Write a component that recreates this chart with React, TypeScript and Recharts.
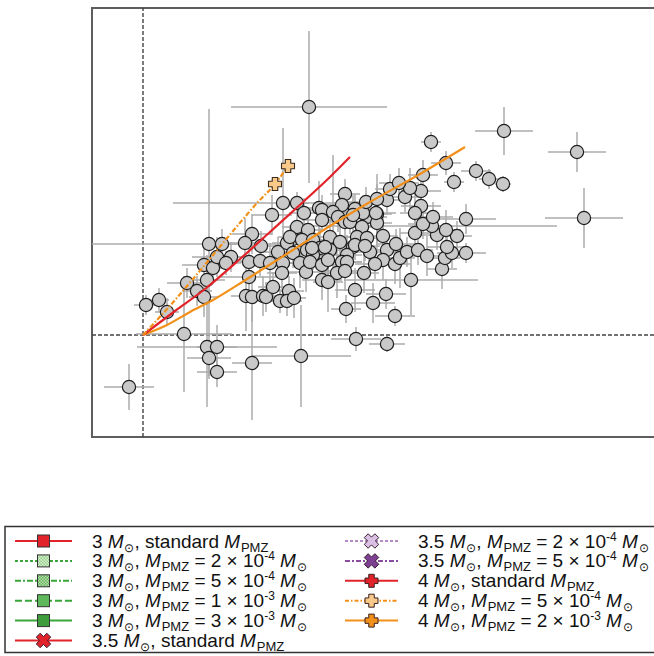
import React from "react";
import {
  ScatterChart,
  Scatter,
  XAxis,
  YAxis,
  ErrorBar,
  ReferenceLine,
  ReferenceArea,
} from "recharts";

// [x, y, xErr, yErr]
type Star = [number, number, number, number];

const lowerStars: Star[] = [
  [-0.14, -0.52, 0.25, 0.23],
  [0.03, 0.3, 0.12, 0.1],
  [0.16, 0.35, 0.1, 0.12],
  [0.24, 0.23, 0.12, 0.14],
  [0.41, 0.01, 0.48, 0.58],
  [0.64, -0.12, 0.7, 0.6],
  [0.74, -0.12, 0.2, 0.22],
  [0.66, -0.23, 0.22, 0.18],
  [0.74, -0.37, 0.2, 0.15],
  [1.09, -0.28, 0.2, 0.57],
  [1.58, -0.21, 0.5, 0.51],
  [2.13, -0.04, 0.25, 0.12],
  [2.44, -0.09, 0.18, 0.08],
  [2.03, 0.26, 0.15, 0.14],
  [2.3, 0.32, 0.22, 0.2],
  [2.43, 0.41, 0.2, 0.15],
  [2.52, 0.19, 0.2, 0.1],
  [2.12, 0.45, 0.2, 0.22],
];

const leftStars: Star[] = [
  [0.44, 0.52, 0.2, 0.15],
  [0.54, 0.44, 0.15, 0.15],
  [0.61, 0.38, 0.15, 0.2],
  [0.64, 0.55, 0.18, 0.25],
  [0.61, 0.7, 0.22, 0.2],
  [0.7, 0.67, 0.15, 0.15],
  [0.74, 0.78, 0.25, 0.2],
  [0.66, 0.91, 1.17, 1.35],
  [0.79, 0.91, 0.15, 0.15],
  [0.88, 0.78, 0.15, 0.15],
  [0.83, 0.72, 0.15, 0.12],
  [1.09, 1.01, 0.2, 0.2],
  [1.02, 0.92, 0.2, 0.25],
  [1.18, 0.89, 0.15, 0.15],
  [1.06, 0.73, 0.2, 0.15],
  [1.17, 0.74, 0.2, 0.15],
  [1.06, 0.58, 0.3, 0.2],
  [1.03, 0.39, 0.15, 0.35],
  [1.09, 0.38, 0.12, 0.25],
  [1.2, 0.39, 0.15, 0.2],
  [1.23, 0.38, 0.1, 0.15],
  [1.3, 0.48, 0.15, 0.15],
  [1.46, 0.44, 0.15, 0.15],
  [1.37, 0.34, 0.12, 0.12],
  [1.44, 0.34, 0.15, 0.15],
  [1.51, 0.37, 0.12, 0.2],
  [1.29, 1.2, 0.2, 0.2],
  [1.4, 1.32, 1.1, 0.75],
  [1.27, 0.72, 0.2, 0.2],
  [1.35, 0.83, 0.15, 0.15],
  [1.4, 0.72, 0.12, 0.12],
  [1.39, 0.62, 0.15, 0.18],
  [1.5, 0.96, 0.12, 0.15],
  [1.44, 0.92, 0.15, 0.12],
  [1.54, 1.08, 0.15, 0.15],
];

const clusterStars: Star[] = [
  [1.54, 1.32, 0.12, 0.11],
  [1.61, 1.22, 0.15, 0.15],
  [1.76, 1.27, 0.12, 0.27],
  [1.79, 1.25, 0.2, 0.15],
  [2.02, 1.41, 0.15, 0.15],
  [1.99, 1.3, 0.18, 0.12],
  [1.9, 1.23, 0.2, 0.57],
  [1.95, 1.18, 0.15, 0.15],
  [1.79, 1.15, 0.2, 0.12],
  [1.65, 1.05, 0.15, 0.2],
  [1.47, 0.98, 0.12, 0.12],
  [1.59, 0.95, 0.2, 0.15],
  [1.7, 0.95, 0.15, 0.15],
  [1.87, 0.98, 0.2, 0.18],
  [2.02, 1.13, 0.15, 0.15],
  [2.07, 1.13, 0.12, 0.12],
  [2.24, 1.18, 0.2, 0.15],
  [2.34, 1.21, 0.15, 0.4],
  [2.44, 1.35, 0.15, 0.15],
  [2.19, 1.08, 0.2, 0.15],
  [2.34, 1.12, 0.15, 0.2],
  [2.14, 0.98, 0.18, 0.15],
  [2.24, 0.97, 0.15, 0.15],
  [1.97, 0.93, 0.2, 0.15],
  [1.77, 0.87, 0.15, 0.2],
  [1.87, 0.85, 0.2, 0.15],
  [1.64, 0.85, 0.12, 0.15],
  [1.5, 0.82, 0.15, 0.15],
  [2.1, 0.88, 0.2, 0.15],
  [2.27, 0.83, 0.15, 0.2],
  [2.44, 0.85, 0.2, 0.15],
  [1.7, 0.8, 0.15, 0.15],
  [2.04, 0.8, 0.15, 0.2],
  [1.57, 0.72, 0.15, 0.25],
  [1.63, 0.63, 0.2, 0.2],
  [1.67, 0.73, 0.15, 0.15],
  [1.79, 0.7, 0.2, 0.15],
  [1.85, 0.75, 0.15, 0.2],
  [1.99, 0.73, 0.2, 0.15],
  [2.04, 0.73, 0.15, 0.15],
  [1.94, 0.62, 0.15, 0.25],
  [2.02, 0.64, 0.2, 0.2],
  [1.79, 0.55, 0.2, 0.2],
  [1.85, 0.53, 0.15, 0.3],
  [1.69, 0.87, 0.15, 0.15],
  [1.82, 0.88, 0.15, 0.15],
  [2.12, 0.9, 0.15, 0.15],
  [2.22, 0.89, 0.15, 0.15],
  [2.12, 1.26, 0.2, 0.15],
  [2.2, 1.22, 0.15, 0.15],
  [2.1, 1.2, 0.15, 0.2],
  [2.23, 1.33, 0.2, 0.15],
  [2.34, 1.36, 0.15, 0.15],
  [2.33, 1.22, 0.2, 0.15],
  [2.4, 0.99, 0.15, 0.2],
  [2.4, 0.75, 0.15, 0.2],
  [2.32, 0.71, 0.2, 0.15],
  [2.52, 0.71, 0.15, 0.2],
  [2.21, 0.62, 0.15, 0.2],
  [2.53, 0.91, 0.2, 0.15],
  [2.57, 0.77, 0.15, 0.3],
  [2.64, 0.83, 0.2, 0.15],
  [2.75, 0.85, 0.15, 0.15],
  [2.84, 0.79, 0.2, 0.2],
  [2.68, 0.55, 0.67, 0.35],
  [2.99, 0.66, 0.15, 0.2],
  [3.02, 0.77, 0.15, 0.15],
  [3.09, 0.82, 0.15, 0.15],
  [3.04, 0.88, 0.2, 0.15],
  [3.23, 0.82, 0.2, 0.1],
  [2.72, 1.02, 0.15, 0.2],
  [2.94, 1.0, 0.2, 0.15],
  [3.14, 0.99, 0.15, 0.15],
  [3.03, 1.05, 0.15, 0.2],
  [2.89, 1.09, 1.25, 0.1],
  [2.8, 1.11, 0.15, 0.15],
  [2.78, 1.29, 0.2, 0.15],
  [2.72, 1.22, 0.15, 0.2],
  [2.9, 1.18, 0.2, 0.15],
  [3.23, 1.16, 0.3, 0.15],
  [2.62, 1.38, 0.15, 0.15],
  [2.78, 1.44, 0.2, 0.15],
  [2.67, 1.47, 0.15, 0.2],
  [2.47, 1.46, 0.15, 0.15],
  [2.56, 1.52, 0.2, 0.15],
  [2.8, 1.6, 0.15, 0.15],
];

const outlierStars: Star[] = [
  [1.66, 2.28, 0.78, 0.76],
  [2.88, 1.93, 0.1, 0.1],
  [3.03, 1.72, 0.15, 0.12],
  [3.11, 1.53, 0.1, 0.1],
  [3.33, 1.64, 0.15, 0.1],
  [3.46, 1.56, 0.1, 0.1],
  [3.6, 1.51, 0.08, 0.08],
  [3.61, 2.04, 0.29, 0.24],
  [4.34, 1.83, 0.29, 0.2],
  [4.41, 1.17, 0.39, 0.3],
];

// model tracks
const red3X = [0, 0.32, 0.62, 0.97, 1.27, 1.59, 1.87, 2.07];
const red3Y = [0, 0.24, 0.46, 0.76, 1.03, 1.32, 1.58, 1.78];
const orangeDashX = [0, 0.25, 0.5, 0.8, 1.15, 1.32, 1.45];
const orangeDashY = [0, 0.27, 0.56, 0.92, 1.33, 1.51, 1.69];
const orangeX = [0, 0.24, 0.47, 0.7, 1.04, 1.5, 1.87, 2.27, 2.77, 3.22];
const orangeY = [0, 0.1, 0.23, 0.35, 0.56, 0.85, 1.09, 1.33, 1.61, 1.88];
const orangeMarkX = [1.32, 1.45];
const orangeMarkY = [1.51, 1.69];

const X_DOMAIN: [number, number] = [-0.51, 5.57];
const Y_DOMAIN: [number, number] = [-1.02, 3.27];

const RED = "#e2232a";
const ORANGE = "#f39019";
const LIGHT_ORANGE = "#f9c98a";

const stars = [...lowerStars, ...leftStars, ...clusterStars, ...outlierStars].map(
  ([x, y, xe, ye]) => ({ x, y, xe, ye })
);
const toPts = (xs: number[], ys: number[]) => xs.map((x, i) => ({ x, y: ys[i] }));

function plusPath(cx: number, cy: number, L: number, w: number, rot = 0) {
  const h = L / 2;
  const t = w / 2;
  const raw = [
    [-t, -h], [t, -h], [t, -t], [h, -t], [h, t], [t, t],
    [t, h], [-t, h], [-t, t], [-h, t], [-h, -t], [-t, -t],
  ];
  const c = Math.cos(rot);
  const s = Math.sin(rot);
  return (
    raw
      .map(([px, py], i) => `${i ? "L" : "M"}${cx + px * c - py * s},${cy + px * s + py * c}`)
      .join("") + "Z"
  );
}

const Dot = (p: any) => (
  <circle cx={p.cx} cy={p.cy} r={6.6} fill="#c9c9c9" stroke="#1e1e1e" strokeWidth={1.2} />
);
const Nothing = () => <g />;
const OrangePlus = (p: any) => (
  <path
    d={plusPath(p.cx, p.cy, 13, 5.5)}
    fill={LIGHT_ORANGE}
    stroke="#3a2a1a"
    strokeWidth={1.1}
    strokeLinejoin="round"
  />
);

// legend
type Seg = [string, "n" | "i" | "sub" | "sup"];
const massSegs = (m: string): Seg[] => [[`${m} `, "n"], ["M", "i"], ["\u2299", "sub"]];
const pmzSegs = (v: string | null, e: string): Seg[] =>
  v === null
    ? [[", standard ", "n"], ["M", "i"], ["PMZ", "sub"]]
    : [
        [", ", "n"], ["M", "i"], ["PMZ", "sub"], [` = ${v} \u00d7 10`, "n"],
        [e, "sup"], [" ", "n"], ["M", "i"], ["\u2299", "sub"],
      ];

const legendMass = ["3", "3", "3", "3", "3", "3.5", "3.5", "3.5", "4", "4", "4"];
const legendPmz = [null, "2", "5", "1", "3", null, "2", "5", null, "5", "2"];
const legendExp = ["", "-4", "-4", "-3", "-3", "", "-4", "-4", "", "-4", "-3"];
const legendColor = [RED, "#3aa63a", "#3aa63a", "#3aa63a", "#3aa63a", RED, "#b58ac6", "#8a4c9e", RED, ORANGE, ORANGE];
const legendDash = ["", "3 2", "6 2 2 2", "7 3", "", "", "3 2", "5 2 2 2", "", "4 2 1.5 2", ""];
const legendMarker = ["sq", "sq", "sq", "sq", "sq", "x", "x", "x", "plus", "plus", "plus"];
const legendFill = [RED, "url(#chk1)", "url(#chk2)", "#5cb85a", "#3f9c3c", RED, "#d9bfe4", "#7d3f92", RED, LIGHT_ORANGE, ORANGE];

function LegendLabel({ x, y, segs }: { x: number; y: number; segs: Seg[] }) {
  let shift = 0;
  return (
    <text x={x} y={y} fontSize={19} fill="#111" fontFamily='"Liberation Sans", Arial, sans-serif'>
      {segs.map(([t, k], i) => {
        const target = k === "sub" ? 4 : k === "sup" ? -7 : 0;
        const dy = target - shift;
        shift = target;
        const small = k === "sub" || k === "sup";
        return (
          <tspan
            key={i}
            dy={dy}
            dx={k === "sub" ? 0.8 : 0}
            fontStyle={k === "i" ? "italic" : "normal"}
            fontSize={small ? (t === "PMZ" ? 13 : 12) : 19}
          >
            {t}
          </tspan>
        );
      })}
    </text>
  );
}

function LegendBox() {
  const rowY = (i: number) => 21 + i * 19.9;
  return (
    <svg width={654} height={136} style={{ position: "absolute", left: 0, top: 520 }}>
      <defs>
        <pattern id="chk1" width="3" height="3" patternUnits="userSpaceOnUse">
          <rect width="3" height="3" fill="#d6eecf" />
          <rect width="1.5" height="1.5" fill="#97d08b" />
          <rect x="1.5" y="1.5" width="1.5" height="1.5" fill="#97d08b" />
        </pattern>
        <pattern id="chk2" width="3" height="3" patternUnits="userSpaceOnUse">
          <rect width="3" height="3" fill="#b6dcae" />
          <rect width="1.5" height="1.5" fill="#66b65c" />
          <rect x="1.5" y="1.5" width="1.5" height="1.5" fill="#66b65c" />
        </pattern>
      </defs>
      <rect x={5} y={6.5} width={700} height={126} fill="#fff" stroke="#333" strokeWidth={1.5} />
      {legendMass.map((m, i) => {
        const col = i < 6 ? 0 : 1;
        const row = col ? i - 6 : i;
        const cy = rowY(row);
        const x0 = col ? 345 : 15;
        const x1 = col ? 398 : 72;
        const mx = (x0 + x1) / 2;
        const tx = col ? 418 : 92;
        const kind = legendMarker[i];
        return (
          <g key={i}>
            <line x1={x0} x2={x1} y1={cy} y2={cy} stroke={legendColor[i]} strokeWidth={2} strokeDasharray={legendDash[i] || undefined} />
            {kind === "sq" && (
              <rect x={mx - 6} y={cy - 6} width={12} height={12} fill={legendFill[i]} stroke="#333" strokeWidth={1} />
            )}
            {kind === "x" && (
              <path d={plusPath(mx, cy, 15, 5.5, Math.PI / 4)} fill={legendFill[i]} stroke="#3a2030" strokeWidth={1} strokeLinejoin="round" />
            )}
            {kind === "plus" && (
              <path d={plusPath(mx, cy, 13, 5.5)} fill={legendFill[i]} stroke="#3a2020" strokeWidth={1} strokeLinejoin="round" />
            )}
            <LegendLabel x={tx} y={cy + 6.5} segs={[...massSegs(m), ...pmzSegs(legendPmz[i], legendExp[i])]} />
          </g>
        );
      })}
    </svg>
  );
}

export default function App() {
  return (
    <div
      style={{
        position: "fixed",
        left: 0,
        top: 0,
        width: 654,
        height: 656,
        overflow: "hidden",
        background: "#fff",
      }}
    >
      <ScatterChart width={700} height={460} margin={{ top: 8, right: 0, bottom: 23, left: 92 }}>
        <XAxis type="number" dataKey="x" domain={X_DOMAIN} allowDataOverflow hide />
        <YAxis type="number" dataKey="y" domain={Y_DOMAIN} allowDataOverflow hide />
        <ReferenceArea
          x1={X_DOMAIN[0]}
          x2={X_DOMAIN[1]}
          y1={Y_DOMAIN[0]}
          y2={Y_DOMAIN[1]}
          fill="none"
          stroke="#5e5e5e"
          strokeWidth={2}
        />
        <ReferenceLine x={0} stroke="#444" strokeWidth={1.4} strokeDasharray="4 2" />
        <ReferenceLine y={0} stroke="#444" strokeWidth={1.4} strokeDasharray="4 2" />
        <Scatter data={stars} shape={Dot} isAnimationActive={false}>
          <ErrorBar dataKey="xe" direction="x" width={0} stroke="#ababab" strokeWidth={1.5} />
          <ErrorBar dataKey="ye" direction="y" width={0} stroke="#ababab" strokeWidth={1.5} />
        </Scatter>
        <Scatter
          data={toPts(orangeX, orangeY)}
          line={{ stroke: ORANGE, strokeWidth: 2.2 }}
          lineJointType="monotoneX"
          shape={Nothing}
          isAnimationActive={false}
        />
        <Scatter
          data={toPts(red3X, red3Y)}
          line={{ stroke: RED, strokeWidth: 2.2 }}
          lineJointType="monotoneX"
          shape={Nothing}
          isAnimationActive={false}
        />
        <Scatter
          data={toPts(orangeDashX, orangeDashY)}
          line={{ stroke: ORANGE, strokeWidth: 2.2, strokeDasharray: "5 2 1.5 2" }}
          lineJointType="monotoneX"
          shape={Nothing}
          isAnimationActive={false}
        />
        <Scatter data={toPts(orangeMarkX, orangeMarkY)} shape={OrangePlus} isAnimationActive={false} />
      </ScatterChart>
      <LegendBox />
    </div>
  );
}
